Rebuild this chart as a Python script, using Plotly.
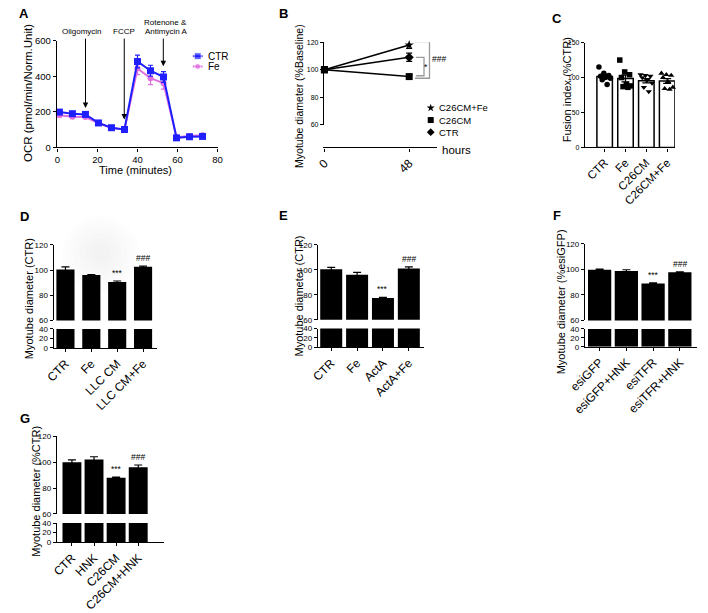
import numpy as np
import plotly.graph_objects as go

W, H = 708, 613
FONT = "Liberation Sans, Arial, sans-serif"

# ---------------- DATA ----------------
# Panel A : Seahorse OCR
a_time = [1, 7.5, 14, 20.5, 27, 33.5, 40, 46.5, 53, 59.5, 66, 72.5]
a_ctr = [199, 190, 186, 138, 111, 101, 484, 432, 397, 54, 60, 62]
a_ctr_err = [10, 8, 8, 6, 5, 5, 36, 31, 30, 6, 6, 6]
a_fe = [181, 173, 171, 137, 110, 100, 445, 390, 362, 58, 64, 68]
a_fe_err = [9, 8, 8, 6, 5, 5, 35, 36, 33, 6, 6, 6]
a_xticks = [0, 20, 40, 60, 80]
a_yticks = [0, 200, 400, 600]

# Panel B : myotube diameter over time
b_hours = [0, 48]
b_cfe = [100, 118]
b_cfe_err = [0, 2.5]
b_ccm = [100, 95]
b_ccm_err = [0, 1.2]
b_ctr = [100, 109]
b_ctr_err = [0, 3]
b_names = ["C26CM+Fe", "C26CM", "CTR"]

# Panel C : fusion index (individual points)
c_cats = ["CTR", "Fe", "C26CM", "C26CM+Fe"]
c_ctr = [115, 106, 103, 102, 100, 99, 97, 90]
c_fe = [125, 108, 104, 100, 90, 88, 87, 86]
c_ccm = [104, 103, 102, 100, 96, 92, 86, 80]
c_cfe = [106, 104, 103, 100, 94, 86, 84, 83]

# Panel D
d_cats = ["CTR", "Fe", "LLC CM", "LLC CM+Fe"]
d_vals = [100.5, 96, 90.5, 102.5]
d_err = [2, 0.3, 0.8, 0.6]
d_sig = ["", "", "***", "###"]
# Panel E
e_cats = ["CTR", "Fe", "ActA", "ActA+Fe"]
e_vals = [100.5, 96, 77.5, 101]
e_err = [1.5, 2, 0.4, 1.3]
e_sig = ["", "", "***", "###"]
# Panel F
f_cats = ["esiGFP", "esiGFP+HNK", "esiTFR", "esiTFR+HNK"]
f_vals = [99.8, 98.7, 89, 97.7]
f_err = [0.4, 1, 0.5, 0.4]
f_sig = ["", "", "***", "###"]
# Panel G
g_cats = ["CTR", "HNK", "C26CM", "C26CM+HNK"]
g_vals = [100, 102, 88, 96]
g_err = [1.8, 2.2, 0.5, 1.8]
g_sig = ["", "", "***", "###"]

BLUE = "#1f1fff"
PINK = "#e070e0"
GRAY = "#9a9a9a"


def fx(p):
    return p / W


def fy(p):
    return 1 - p / H


def nm(i):
    return "" if i == 1 else str(i)


def tfont(size):
    return dict(size=size, color="black", family=FONT)


AX = dict(showline=True, linecolor="black", linewidth=1.2, ticks="outside",
          ticklen=3.5, tickwidth=1.1, tickcolor="black", showgrid=False,
          zeroline=False, fixedrange=True, tickfont=tfont(9))

layout = dict(width=W, height=H, margin=dict(l=0, r=0, t=0, b=0),
              paper_bgcolor="white", plot_bgcolor="rgba(0,0,0,0)",
              showlegend=False, font=dict(family=FONT, color="black"))
annotations = []
shapes = []
fig = go.Figure()

OV_X, OV_Y = "x8", "y13"  # pixel overlay for labels


def text(x, y, s, size=10, angle=0, xanchor="center", yanchor="middle", bold=False):
    annotations.append(dict(x=x, y=y, xref=OV_X, yref=OV_Y, text=("<b>%s</b>" % s) if bold else s,
                            showarrow=False, textangle=angle, xanchor=xanchor, yanchor=yanchor,
                            font=tfont(size)))


# ---------------- Panel A ----------------
layout["xaxis"] = dict(AX, domain=[fx(41.7), fx(207)], range=[0, 80], tickvals=a_xticks, anchor="y",
                       tickfont=tfont(9.5))
layout["yaxis"] = dict(AX, domain=[fy(145.7), fy(36)], range=[0, 600], tickvals=a_yticks, anchor="x",
                       tickfont=tfont(9.5))
fig.add_trace(go.Scatter(x=a_time, y=a_fe, mode="lines+markers", xaxis="x", yaxis="y",
                         line=dict(color=PINK, width=2), marker=dict(symbol="circle", size=6, color=PINK),
                         error_y=dict(type="data", array=a_fe_err, color=PINK, thickness=1.2, width=2.5),
                         cliponaxis=False))
fig.add_trace(go.Scatter(x=a_time, y=a_ctr, mode="lines+markers", xaxis="x", yaxis="y",
                         line=dict(color=BLUE, width=2), marker=dict(symbol="square", size=7, color=BLUE),
                         error_y=dict(type="data", array=a_ctr_err, color=BLUE, thickness=1.2, width=2.5),
                         cliponaxis=False))
text(7.5, 7.5, "A", 13, bold=True)
text(12, 90, "OCR (pmol/min/Norm.Unit)", 11.5, angle=-90)
text(122.5, 168.5, "Time (minutes)", 11)
for (ax_, head, tail) in [(70.7, 105, 32), (110.7, 117, 32), (151, 62, 32)]:
    annotations.append(dict(x=ax_, y=head, ax=ax_, ay=tail, xref=OV_X, yref=OV_Y, axref=OV_X, ayref=OV_Y,
                            text="", showarrow=True, arrowhead=2, arrowsize=1.1, arrowwidth=1, arrowcolor="black"))
text(66.7, 26, "Oligomycin", 8)
text(110.7, 26, "FCCP", 8)
text(153.3, 16.5, "Rotenone &amp;", 8)
text(153.3, 26.5, "Antimycin A", 8)
# legend A
fig.add_trace(go.Scatter(x=[181.5, 186.5, 191.5], y=[51.7] * 3, mode="lines+markers", xaxis=OV_X, yaxis=OV_Y,
                         line=dict(color=BLUE, width=2), marker=dict(symbol="square", size=[0, 7, 0], color=BLUE)))
fig.add_trace(go.Scatter(x=[181.5, 186.5, 191.5], y=[62.3] * 3, mode="lines+markers", xaxis=OV_X, yaxis=OV_Y,
                         line=dict(color=PINK, width=2), marker=dict(symbol="circle", size=[0, 6, 0], color=PINK)))
text(195, 51.7, "CTR", 10, xanchor="left")
text(195, 62.3, "Fe", 10, xanchor="left")

# ---------------- Panel B ----------------
AXB = dict(AX, tickfont=tfont(7))
layout["xaxis2"] = dict(AX, domain=[fx(317.3), fx(433)], range=[0, 63.5], tickvals=b_hours,
                        ticktext=[str(h) for h in b_hours], tickangle=-45, anchor="y3",
                        tickfont=tfont(12), ticklen=3)
layout["yaxis2"] = dict(AXB, domain=[fy(122.3), fy(37.3)], range=[60, 120], tickvals=[60, 80, 100, 120], anchor="x2")
layout["yaxis3"] = dict(AXB, domain=[fy(147.5), fy(127.7)], range=[0, 24], tickvals=[20], anchor="x2")
for vals, errs, sym in [(b_ctr, b_ctr_err, "diamond"), (b_cfe, b_cfe_err, "star"), (b_ccm, b_ccm_err, "square")]:
    fig.add_trace(go.Scatter(x=b_hours, y=vals, mode="lines+markers", xaxis="x2", yaxis="y2",
                             line=dict(color="black", width=1.5),
                             marker=dict(symbol=["square", sym], size=7, color="black"),
                             error_y=dict(type="data", array=errs, color="black", thickness=1.2, width=3),
                             cliponaxis=False))
# brackets
ob_top = b_cfe[1] + b_cfe_err[1]
ob_bot = b_ccm[1] - b_ccm_err[1]
ib_top = b_ctr[1]
ib_bot = b_ccm[1] + b_ccm_err[1] * 0.5
shapes.append(dict(type="path", xref="x2", yref="y2",
                   path=f"M 51.3 {ob_top} L 59.5 {ob_top} L 59.5 {ob_bot} L 51.3 {ob_bot}",
                   line=dict(color=GRAY, width=1.3)))
shapes.append(dict(type="path", xref="x2", yref="y2",
                   path=f"M 51.8 {ib_top} L 56.4 {ib_top} L 56.4 {ib_bot} L 51.8 {ib_bot}",
                   line=dict(color=GRAY, width=1.3)))
text(436, 55, "###", 8.5)
text(422.5, 62.5, "*", 8.5)
text(275, 7.5, "B", 13, bold=True)
text(291.7, 93, "Myotube diameter (%Baseline)", 10.5, angle=-90)
text(436.5, 148.5, "hours", 11.5, xanchor="left")
# legend B
leg_y = [105, 117.5, 130]
fig.add_trace(go.Scatter(x=[427] * 3, y=leg_y, mode="markers", xaxis=OV_X, yaxis=OV_Y,
                         marker=dict(symbol=["star", "square", "diamond"], size=6, color="black")))
for yy, nme in zip(leg_y, b_names):
    text(433, yy, nme, 9.5, xanchor="left")

# ---------------- Panel C ----------------
cL, cR, c0, cs, cw = 586.7, 679, 606.5, 21.5, 16
layout["xaxis3"] = dict(AX, domain=[fx(cL), fx(cR)], range=[(cL - c0) / cs, (cR - c0) / cs],
                        tickvals=list(range(4)), ticktext=c_cats, tickangle=-45, anchor="y4", ticklen=3,
                        tickfont=tfont(11.5))
layout["yaxis4"] = dict(AX, domain=[fy(145.7), fy(37.7)], range=[0, 150], tickvals=[0, 50, 100, 150],
                        anchor="x3", tickfont=tfont(7))
c_groups = [c_ctr, c_fe, c_ccm, c_cfe]
c_syms = ["circle", "square", "triangle-down", "triangle-up"]
means = [float(np.mean(g)) for g in c_groups]
sems = [float(np.std(g, ddof=1) / np.sqrt(len(g))) for g in c_groups]
fig.add_trace(go.Bar(x=list(range(4)), y=means, width=cw / cs, xaxis="x3", yaxis="y4",
                     marker=dict(color="white", line=dict(color="black", width=1.5))))
for i, (g, sym) in enumerate(zip(c_groups, c_syms)):
    n = len(g)
    offs = [(((k * 3) % n) / (n - 1) - 0.5) * 0.55 for k in range(n)]
    fig.add_trace(go.Scatter(x=[i + o for o in offs], y=g, mode="markers", xaxis="x3", yaxis="y4",
                             marker=dict(symbol=sym, size=5.5, color="black"), cliponaxis=False))
fig.add_trace(go.Scatter(x=list(range(4)), y=means, mode="markers", xaxis="x3", yaxis="y4",
                         marker=dict(size=1, color="rgba(0,0,0,0)"),
                         error_y=dict(type="data", array=sems, color="black", thickness=1.3, width=4)))
text(557.3, 13.3, "C", 13, bold=True)
text(568.5, 86, "Fusion index (%CTR)", 11, angle=-90)


# ---------------- Broken-axis bar panels ----------------
def bar_panel(xi, yu, yl, cats, vals, errs, sig, L, R, c0, s, w, top, mid, low, bot):
    xs = list(range(len(cats)))
    layout["xaxis" + nm(xi)] = dict(AX, domain=[fx(L), fx(R)], range=[(L - c0) / s, (R - c0) / s],
                                    tickvals=xs, ticktext=cats, tickangle=-45, anchor="y" + nm(yl),
                                    ticklen=3, tickfont=tfont(12))
    tf = tfont(8)
    layout["yaxis" + nm(yu)] = dict(AX, domain=[fy(mid), fy(top)], range=[60, 120],
                                    tickvals=[60, 80, 100, 120], anchor="x" + nm(xi), tickfont=tf)
    layout["yaxis" + nm(yl)] = dict(AX, domain=[fy(bot), fy(low)], range=[0, 40],
                                    tickvals=[0, 20, 40], anchor="x" + nm(xi), tickfont=tf)
    fig.add_trace(go.Bar(x=xs, y=vals, width=w / s, xaxis="x" + nm(xi), yaxis="y" + nm(yu),
                         marker=dict(color="black", line=dict(width=0)),
                         error_y=dict(type="data", array=errs, color="black", thickness=1.2, width=4)))
    fig.add_trace(go.Bar(x=xs, y=vals, width=w / s, xaxis="x" + nm(xi), yaxis="y" + nm(yl),
                         marker=dict(color="black", line=dict(width=0))))
    for i, t in enumerate(sig):
        if t:
            annotations.append(dict(x=i, y=vals[i] + errs[i], xref="x" + nm(xi), yref="y" + nm(yu),
                                    text=t, showarrow=False, yanchor="bottom", yshift=1,
                                    font=tfont(8.5)))


# very faint grey smudge behind panel D (scan artefact)
for r in [40, 34, 28, 22, 16, 10]:
    shapes.append(dict(type="circle", xref=OV_X, yref=OV_Y, x0=86 - r, x1=86 + r, y0=255 - r, y1=255 + r,
                       fillcolor="rgba(0,0,0,0.006)", line=dict(width=0), layer="below"))

bar_panel(4, 5, 6, d_cats, d_vals, d_err, d_sig, 38.3, 144, 50, 26.7, 18.7, 246, 324, 332.7, 352.3)
text(8, 216.7, "D", 13, bold=True)
text(11.7, 301.7, "Myotube diameter (CTR)", 11, angle=-90)

bar_panel(5, 7, 8, e_cats, e_vals, e_err, e_sig, 311, 420, 324.3, 26.7, 22.7, 246, 323.3, 332.3, 351.7)
text(275, 216, "E", 13, bold=True)
text(291, 298.3, "Myotube diameter (CTR)", 11, angle=-90)

bar_panel(6, 9, 10, f_cats, f_vals, f_err, f_sig, 586.7, 702.3, 601.3, 27.6, 24, 245, 324, 332.7, 351)
text(557.3, 216, "F", 13, bold=True)
text(561.7, 305, "Myotube diameter (%esiGFP)", 11, angle=-90)

bar_panel(7, 11, 12, g_cats, g_vals, g_err, g_sig, 41.7, 151.7, 56.7, 22.8, 19.5, 443.3, 523.3, 532.7, 552.3)
text(8, 425, "G", 13, bold=True)
text(20, 500, "Myotube diameter (%CTR)", 11, angle=-90)

# ---------------- pixel overlay axes ----------------
layout["xaxis8"] = dict(domain=[0, 1], range=[0, W], visible=False, fixedrange=True, anchor="y13")
layout["yaxis13"] = dict(domain=[0, 1], range=[H, 0], visible=False, fixedrange=True, anchor="x8")

layout["annotations"] = annotations
layout["shapes"] = shapes
fig.update_layout(**layout)
fig.write_html("out.html", config={"displayModeBar": False},
               post_script="document.body.style.margin='0';document.body.style.padding='0';")
